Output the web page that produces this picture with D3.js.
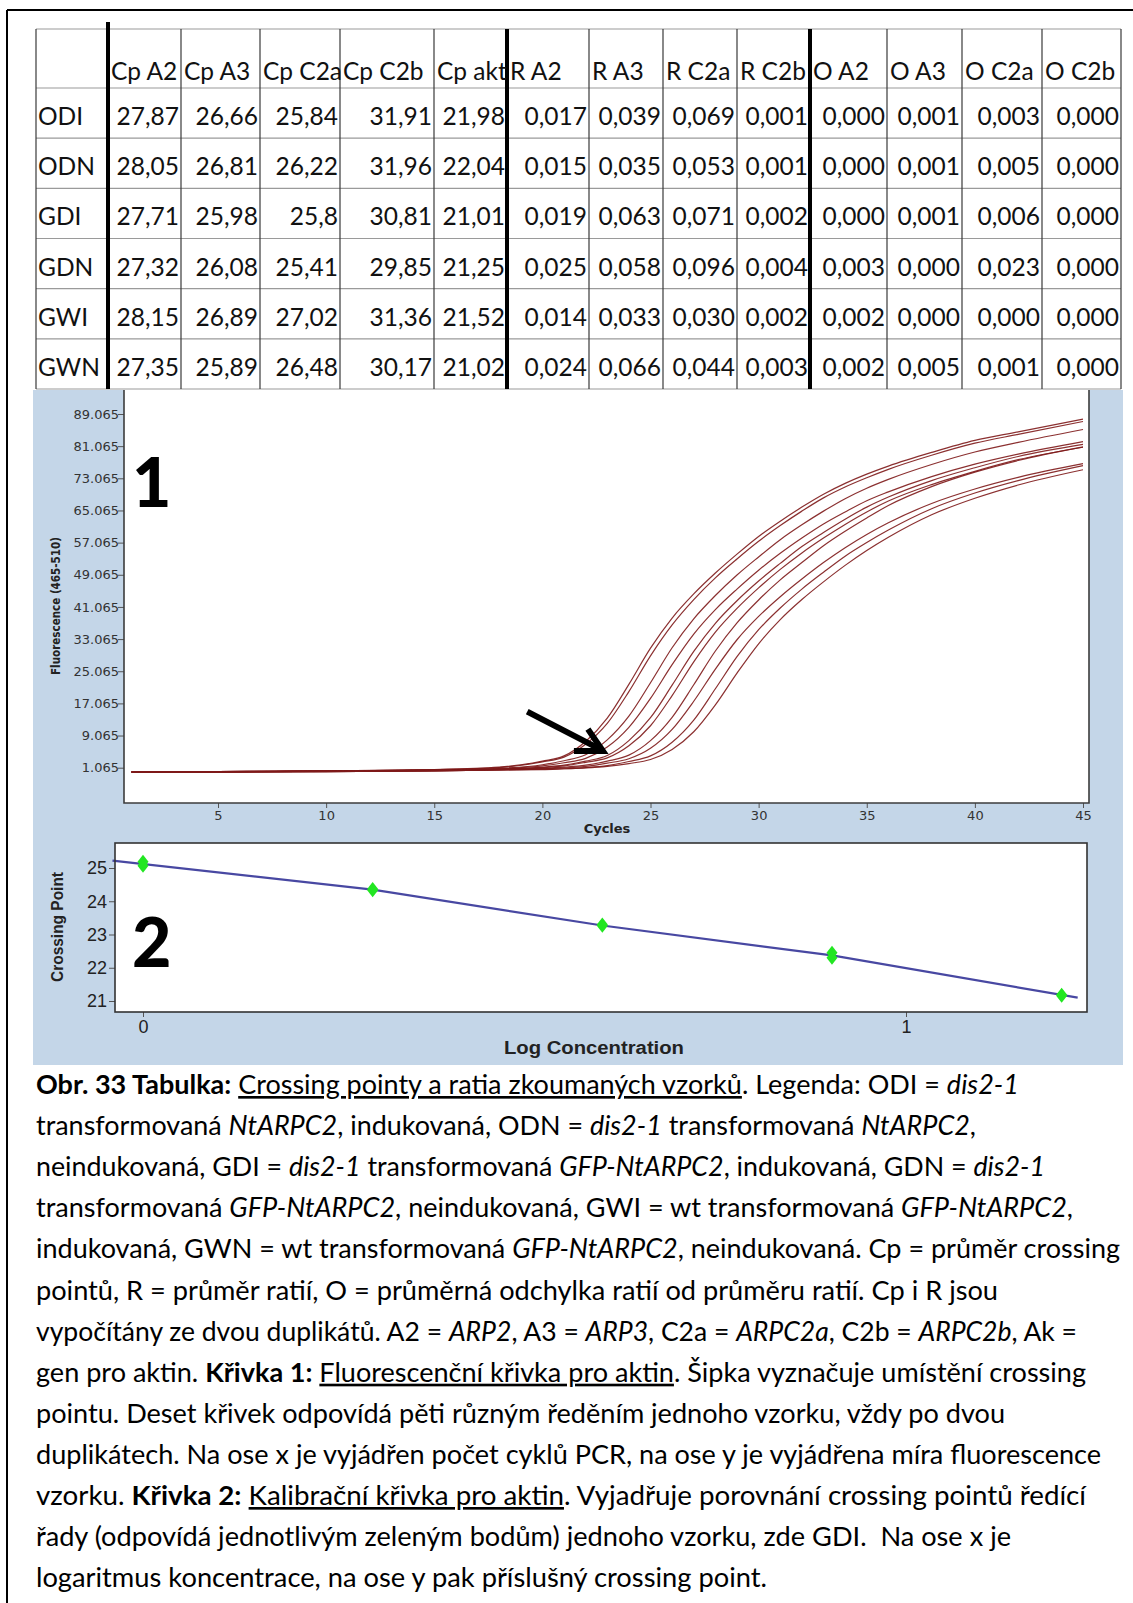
<!DOCTYPE html>
<html>
<head>
<meta charset="utf-8">
<script src="https://cdn.jsdelivr.net/npm/d3@7"></script>
<style>
body { margin: 0; background: #fff; }
svg { display: block; }
</style>
</head>
<body>
<script>
// ---------- table data
var colHeads = ["Cp A2", "Cp A3", "Cp C2a", "Cp C2b", "Cp akt", "R A2", "R A3", "R C2a", "R C2b", "O A2", "O A3", "O C2a", "O C2b"];
var rowHeads = ["ODI", "ODN", "GDI", "GDN", "GWI", "GWN"];
var cpVals = [
    ["27,87", "26,66", "25,84", "31,91", "21,98"],
    ["28,05", "26,81", "26,22", "31,96", "22,04"],
    ["27,71", "25,98", "25,8", "30,81", "21,01"],
    ["27,32", "26,08", "25,41", "29,85", "21,25"],
    ["28,15", "26,89", "27,02", "31,36", "21,52"],
    ["27,35", "25,89", "26,48", "30,17", "21,02"]
];
var ratioVals = [
    ["0,017", "0,039", "0,069", "0,001"],
    ["0,015", "0,035", "0,053", "0,001"],
    ["0,019", "0,063", "0,071", "0,002"],
    ["0,025", "0,058", "0,096", "0,004"],
    ["0,014", "0,033", "0,030", "0,002"],
    ["0,024", "0,066", "0,044", "0,003"]
];
var devVals = [
    ["0,000", "0,001", "0,003", "0,000"],
    ["0,000", "0,001", "0,005", "0,000"],
    ["0,000", "0,001", "0,006", "0,000"],
    ["0,003", "0,000", "0,023", "0,000"],
    ["0,002", "0,000", "0,000", "0,000"],
    ["0,002", "0,005", "0,001", "0,000"]
];

// ---------- chart 1 : fluorescence curves
var cycles = [1, 5, 10, 15, 18, 20, 21, 22, 23, 24, 25, 26, 27, 28, 29, 30, 31, 32, 33, 34, 35, 36, 38, 40, 42, 45];
var fluorCurves = [
    [0, 0.1, 0.3, 0.6, 1.2, 2.7, 4.0, 7.6, 13.4, 21.8, 30.8, 38.3, 44.3, 49.5, 54.2, 58.6, 62.4, 65.9, 69.1, 71.8, 74.1, 76.1, 79.5, 82.5, 84.6, 87.8],
    [0, 0.1, 0.3, 0.6, 1.1, 2.5, 3.7, 6.9, 12.1, 20.0, 28.9, 36.6, 42.9, 48.3, 53.0, 57.4, 61.3, 64.9, 68.2, 70.9, 73.2, 75.3, 78.8, 81.8, 84.0, 87.2],
    [0, 0.1, 0.3, 0.5, 0.9, 1.8, 2.8, 4.3, 8.0, 13.9, 22.2, 30.9, 38.1, 43.9, 49.0, 53.5, 57.8, 61.5, 64.9, 68.0, 70.6, 72.8, 76.5, 79.6, 82.0, 85.2],
    [0, 0.1, 0.2, 0.5, 0.8, 1.5, 2.3, 3.4, 6.2, 11.1, 18.3, 26.7, 34.3, 40.4, 45.5, 50.2, 54.4, 58.2, 61.7, 64.7, 67.5, 69.7, 73.5, 76.6, 79.1, 82.2],
    [0, 0.0, 0.2, 0.4, 0.7, 1.2, 1.7, 2.7, 4.1, 7.8, 13.5, 21.6, 30.0, 37.0, 42.6, 47.5, 51.9, 56.1, 59.6, 62.9, 65.9, 68.4, 72.5, 75.7, 78.5, 81.5],
    [0, 0.0, 0.2, 0.4, 0.7, 1.1, 1.5, 2.4, 3.5, 6.5, 11.5, 19.0, 27.4, 34.8, 40.7, 45.8, 50.4, 54.5, 58.2, 61.6, 64.7, 67.4, 71.5, 74.8, 77.7, 80.8],
    [0, 0.0, 0.2, 0.4, 0.6, 0.9, 1.2, 1.7, 2.7, 4.2, 7.8, 13.6, 21.7, 30.1, 37.1, 42.8, 47.8, 52.1, 56.3, 59.9, 63.2, 66.3, 71.0, 74.6, 77.5, 80.9],
    [0, 0.0, 0.1, 0.3, 0.5, 0.8, 1.0, 1.4, 2.2, 3.3, 5.9, 10.6, 17.6, 25.6, 32.9, 38.7, 43.6, 48.0, 52.1, 55.8, 59.1, 62.0, 66.8, 70.4, 73.3, 76.7],
    [0, 0.0, 0.1, 0.3, 0.5, 0.7, 0.8, 1.1, 1.6, 2.6, 4.0, 7.4, 12.9, 20.7, 28.7, 35.4, 40.8, 45.5, 49.7, 53.7, 57.1, 60.2, 65.5, 69.4, 72.5, 76.2],
    [0, 0.0, 0.1, 0.3, 0.5, 0.6, 0.8, 1.0, 1.4, 2.1, 3.1, 5.6, 10.0, 16.7, 24.6, 31.9, 37.9, 42.9, 47.3, 51.4, 55.1, 58.4, 64.0, 68.1, 71.4, 75.2]
];
var fluorTicks = [1.065, 9.065, 17.065, 25.065, 33.065, 41.065, 49.065, 57.065, 65.065, 73.065, 81.065, 89.065];
var cycleTicks = [5, 10, 15, 20, 25, 30, 35, 40, 45];
var arrowTail = {c: 19.3, f: 15.0};
var arrowTip = {c: 22.8, f: 5.2};

// ---------- chart 2 : calibration
var logConc = [0, 0, 0.301, 0.301, 0.602, 0.602, 0.903, 0.903, 1.204, 1.204];
var crossPts = [25.19, 25.07, 24.37, 24.33, 23.30, 23.26, 22.45, 22.30, 21.19, 21.16];
var fitX = [-0.04, 0.301, 0.602, 0.903, 1.225];
var fitY = [25.22, 24.35, 23.27, 22.37, 21.10];
var cpTicks = [21, 22, 23, 24, 25];
var concTicks = [0, 1];

// ---------- caption (text, style)
var captionLines = [
    [["Obr. 33 Tabulka:", "b"], [" ", ""], ["Crossing pointy a ratia zkoumaných vzorků", "u"], [". Legenda: ODI = ", ""], ["dis2-1", "i"]],
    [["transformovaná ", ""], ["NtARPC2", "i"], [", indukovaná, ODN = ", ""], ["dis2-1", "i"], [" transformovaná ", ""], ["NtARPC2", "i"], [",", ""]],
    [["neindukovaná, GDI = ", ""], ["dis2-1", "i"], [" transformovaná ", ""], ["GFP-NtARPC2", "i"], [", indukovaná, GDN = ", ""], ["dis2-1", "i"]],
    [["transformovaná ", ""], ["GFP-NtARPC2", "i"], [", neindukovaná, GWI = wt transformovaná ", ""], ["GFP-NtARPC2", "i"], [",", ""]],
    [["indukovaná, GWN = wt transformovaná ", ""], ["GFP-NtARPC2", "i"], [", neindukovaná. Cp = průměr crossing", ""]],
    [["pointů, R = průměr ratií, O = průměrná odchylka ratií od průměru ratií. Cp i R jsou", ""]],
    [["vypočítány ze dvou duplikátů. A2 = ", ""], ["ARP2", "i"], [", A3 = ", ""], ["ARP3", "i"], [", C2a = ", ""], ["ARPC2a", "i"], [", C2b = ", ""], ["ARPC2b", "i"], [", Ak =", ""]],
    [["gen pro aktin. ", ""], ["Křivka 1:", "b"], [" ", ""], ["Fluorescenční křivka pro aktin", "u"], [". Šipka vyznačuje umístění crossing", ""]],
    [["pointu. Deset křivek odpovídá pěti různým ředěním jednoho vzorku, vždy po dvou", ""]],
    [["duplikátech. Na ose x je vyjádřen počet cyklů PCR, na ose y je vyjádřena míra fluorescence", ""]],
    [["vzorku. ", ""], ["Křivka 2:", "b"], [" ", ""], ["Kalibrační křivka pro aktin", "u"], [". Vyjadřuje porovnání crossing pointů ředící", ""]],
    [["řady (odpovídá jednotlivým zeleným bodům) jednoho vzorku, zde GDI.  Na ose x je", ""]],
    [["logaritmus koncentrace, na ose y pak příslušný crossing point.", ""]]
];

// ================= layout
var W = 1133, H = 1603;
var svg = d3.select("body").append("svg")
    .attr("width", W)
    .attr("height", H)
    .style("background-color", "white");

// page frame (only top and left edges show)
svg.append("line").attr("x1", 7).attr("y1", 10).attr("x2", W).attr("y2", 10)
    .attr("stroke", "#000").attr("stroke-width", 2);
svg.append("line").attr("x1", 7).attr("y1", 10).attr("x2", 7).attr("y2", H)
    .attr("stroke", "#000").attr("stroke-width", 2);

// ---------- table
var colX = [36, 108, 181, 260, 340, 434, 507, 589, 663, 737, 810, 887, 962, 1042, 1121];
var tTop = 29, headBottom = 88, tBottom = 389;
var rowY = d3.scaleLinear().domain([0, rowHeads.length]).range([headBottom, tBottom]);
var thick = [108, 507, 810];
var tbl = svg.append("g").style("font-family", "Lato, 'Open Sans', sans-serif").style("font-size", "24.5px").attr("fill", "#111");

var hLines = [tTop].concat(d3.range(rowHeads.length + 1).map(function(i){ return rowY(i); }));
hLines.forEach(function(y){
    tbl.append("line").attr("x1", colX[0]).attr("x2", colX[colX.length-1]).attr("y1", y).attr("y2", y)
        .attr("stroke", "#9a9a9a").attr("stroke-width", 1.2);
});
colX.forEach(function(x){
    if (thick.indexOf(x) >= 0) return;
    tbl.append("line").attr("x1", x).attr("x2", x).attr("y1", tTop).attr("y2", tBottom)
        .attr("stroke", "#3a3a3a").attr("stroke-width", 1.2);
});
thick.forEach(function(x, i){
    tbl.append("line").attr("x1", x).attr("x2", x).attr("y1", i == 0 ? 22 : tTop).attr("y2", tBottom)
        .attr("stroke", "#000").attr("stroke-width", 4);
});

colHeads.forEach(function(h, j){
    tbl.append("text").attr("x", colX[j+1] + 3).attr("y", 80).text(h);
});
rowHeads.forEach(function(r, i){
    var base = rowY(i) + 37;
    tbl.append("text").attr("x", colX[0] + 2).attr("y", base).text(r);
    var vals = cpVals[i].concat(ratioVals[i], devVals[i]);
    vals.forEach(function(v, j){
        tbl.append("text").attr("x", colX[j+2] - 2).attr("y", base)
            .attr("text-anchor", "end").text(v);
    });
});

// ---------- blue panel
svg.append("rect").attr("x", 33).attr("y", 390).attr("width", 1090).attr("height", 675)
    .attr("fill", "#c4d6e8");

// ---------- chart 1
var p1 = {left: 124, right: 1089, top: 390, bottom: 803};
var x1 = d3.scaleLinear().domain([5, 45]).range([218, 1083]);
var y1 = d3.scaleLinear().domain([1.065, 89.065]).range([767.7, 414]);

svg.append("rect").attr("x", p1.left).attr("y", p1.top).attr("width", p1.right - p1.left)
    .attr("height", p1.bottom - p1.top).attr("fill", "#fff");

svg.append("clipPath").attr("id", "clip1").append("rect")
    .attr("x", p1.left).attr("y", p1.top).attr("width", p1.right - p1.left).attr("height", p1.bottom - p1.top);

var fline = d3.line()
    .x(function(d, i){ return x1(cycles[i]); })
    .y(function(d){ return y1(d); })
    .curve(d3.curveMonotoneX);

svg.append("g").attr("clip-path", "url(#clip1)")
    .selectAll("path").data(fluorCurves).enter().append("path")
    .attr("d", fline)
    .attr("fill", "none")
    .attr("stroke", "#7e1a1a")
    .attr("stroke-width", 1.2)
    .attr("stroke-opacity", 0.9);

// axes chart 1
var minorF = d3.range(-7, 94, 1).map(function(k){ return 1.065 + k; });
var ax1y = svg.append("g").attr("transform", "translate(" + p1.left + ",0)");
ax1y.call(d3.axisLeft(y1).tickValues(minorF).tickSize(3).tickFormat(""));
ax1y.call(d3.axisLeft(y1).tickValues(fluorTicks).tickSize(6).tickFormat(d3.format(".3f")));
ax1y.selectAll(".domain").remove();
ax1y.selectAll("line").attr("stroke", "#555");
ax1y.selectAll("text").attr("x", -5).attr("fill", "#333")
    .style("font-family", "'DejaVu Sans', sans-serif").style("font-size", "13px");

var ax1x = svg.append("g").attr("transform", "translate(0," + p1.bottom + ")");
ax1x.call(d3.axisBottom(x1).tickValues(d3.range(1, 46)).tickSize(2).tickFormat(""));
ax1x.call(d3.axisBottom(x1).tickValues(cycleTicks).tickSize(5).tickFormat(d3.format("d")));
ax1x.selectAll(".domain").remove();
ax1x.selectAll("line").attr("stroke", "#555");
ax1x.selectAll("text").attr("fill", "#333")
    .style("font-family", "'DejaVu Sans', sans-serif").style("font-size", "13px");

// frame chart 1
svg.append("path")
    .attr("d", "M" + p1.left + "," + p1.top + "V" + p1.bottom + "H" + p1.right + "V" + p1.top)
    .attr("fill", "none").attr("stroke", "#3c3c3c").attr("stroke-width", 1.6);

svg.append("text").attr("x", 607).attr("y", 833).attr("text-anchor", "middle")
    .style("font-family", "'DejaVu Sans', sans-serif").style("font-size", "13px").style("font-weight", "bold")
    .attr("fill", "#222").text("Cycles");

svg.append("text").attr("transform", "translate(60,606) rotate(-90)").attr("text-anchor", "middle")
    .attr("textLength", 138).attr("lengthAdjust", "spacingAndGlyphs")
    .style("font-family", "'DejaVu Sans Condensed', 'DejaVu Sans', sans-serif").style("font-size", "12px").style("font-weight", "bold")
    .attr("fill", "#222").text("Fluorescence (465-510)");

svg.append("text").attr("x", 132).attr("y", 507)
    .style("font-family", "Lato, sans-serif").style("font-size", "68px").style("font-weight", "900")
    .attr("fill", "#000").text("1");

// arrow
var tipX = x1(arrowTip.c), tipY = y1(arrowTip.f);
svg.append("line").attr("x1", x1(arrowTail.c)).attr("y1", y1(arrowTail.f)).attr("x2", tipX - 2).attr("y2", tipY - 1.5)
    .attr("stroke", "#000").attr("stroke-width", 6);
svg.append("path")
    .attr("d", "M" + (tipX - 29) + "," + tipY + "L" + tipX + "," + tipY + "L" + (tipX - 15) + "," + (tipY - 22))
    .attr("fill", "none").attr("stroke", "#000").attr("stroke-width", 6).attr("stroke-linejoin", "miter");

// ---------- chart 2
var p2 = {left: 115, right: 1087, top: 843, bottom: 1012};
var x2 = d3.scaleLinear().domain([0, 1]).range([143, 906]);
var y2 = d3.scaleLinear().domain([21, 25]).range([1001, 868]);

svg.append("rect").attr("x", p2.left).attr("y", p2.top).attr("width", p2.right - p2.left)
    .attr("height", p2.bottom - p2.top).attr("fill", "#fff");

var ax2y = svg.append("g").attr("transform", "translate(" + p2.left + ",0)");
ax2y.call(d3.axisLeft(y2).tickValues(d3.range(20.8, 25.61, 0.2)).tickSize(3).tickFormat(""));
ax2y.call(d3.axisLeft(y2).tickValues(cpTicks).tickSize(6).tickFormat(d3.format("d")));
ax2y.selectAll(".domain").remove();
ax2y.selectAll("line").attr("stroke", "#555");
ax2y.selectAll("text").attr("x", -8).attr("fill", "#222")
    .style("font-family", "'Liberation Sans Narrow', 'Liberation Sans', sans-serif").style("font-size", "18px");

var ax2x = svg.append("g").attr("transform", "translate(0," + p2.bottom + ")");
ax2x.call(d3.axisBottom(x2).tickValues(concTicks).tickSize(5).tickFormat(d3.format("d")));
ax2x.selectAll(".domain").remove();
ax2x.selectAll("line").attr("stroke", "#555");
ax2x.selectAll("text").attr("fill", "#222")
    .style("font-family", "'Liberation Sans Narrow', 'Liberation Sans', sans-serif").style("font-size", "18px");

var fit = d3.line()
    .x(function(d, i){ return x2(fitX[i]); })
    .y(function(d){ return y2(d); });
svg.append("path").attr("d", fit(fitY))
    .attr("fill", "none").attr("stroke", "#4848a2").attr("stroke-width", 2.2);

svg.append("g").selectAll("path").data(logConc).enter().append("path")
    .attr("d", "M0,-7L5.5,0L0,7L-5.5,0Z")
    .attr("transform", function(d, i){ return "translate(" + x2(d) + "," + y2(crossPts[i]) + ")"; })
    .attr("fill", "#22e622");

svg.append("rect").attr("x", p2.left).attr("y", p2.top).attr("width", p2.right - p2.left)
    .attr("height", p2.bottom - p2.top).attr("fill", "none").attr("stroke", "#333").attr("stroke-width", 1.6);

svg.append("text").attr("transform", "translate(63,927) rotate(-90)").attr("text-anchor", "middle")
    .attr("textLength", 110).attr("lengthAdjust", "spacingAndGlyphs")
    .style("font-family", "'Liberation Sans Narrow', 'Liberation Sans', sans-serif").style("font-size", "17px").style("font-weight", "bold")
    .attr("fill", "#222").text("Crossing Point");

svg.append("text").attr("x", 594).attr("y", 1054).attr("text-anchor", "middle")
    .attr("textLength", 180).attr("lengthAdjust", "spacingAndGlyphs")
    .style("font-family", "'Liberation Sans Narrow', 'Liberation Sans', sans-serif").style("font-size", "18px").style("font-weight", "bold")
    .attr("fill", "#222").text("Log Concentration");

svg.append("text").attr("x", 132).attr("y", 967)
    .style("font-family", "Lato, sans-serif").style("font-size", "68px").style("font-weight", "900")
    .attr("fill", "#000").text("2");

// ---------- caption
var lineEnds = [1019, 976, 1045, 1073, 1120, 998, 1077, 1086, 1005, 1101, 1086, 1011, 767];
captionLines.forEach(function(segs, i){
    var t = svg.append("text")
        .attr("x", 36).attr("y", 1094 + i * 41.1)
        .attr("textLength", lineEnds[i] - 36).attr("lengthAdjust", "spacingAndGlyphs")
        .style("font-family", "Lato, 'Open Sans', sans-serif").style("font-size", "26.5px")
        .style("white-space", "pre").attr("fill", "#000");
    segs.forEach(function(s){
        var ts = t.append("tspan").text(s[0]);
        if (s[1] == "b") ts.style("font-weight", "bold");
        if (s[1] == "i") ts.style("font-style", "italic");
        if (s[1] == "u") ts.style("text-decoration", "underline");
    });
});
</script>
</body>
</html>
